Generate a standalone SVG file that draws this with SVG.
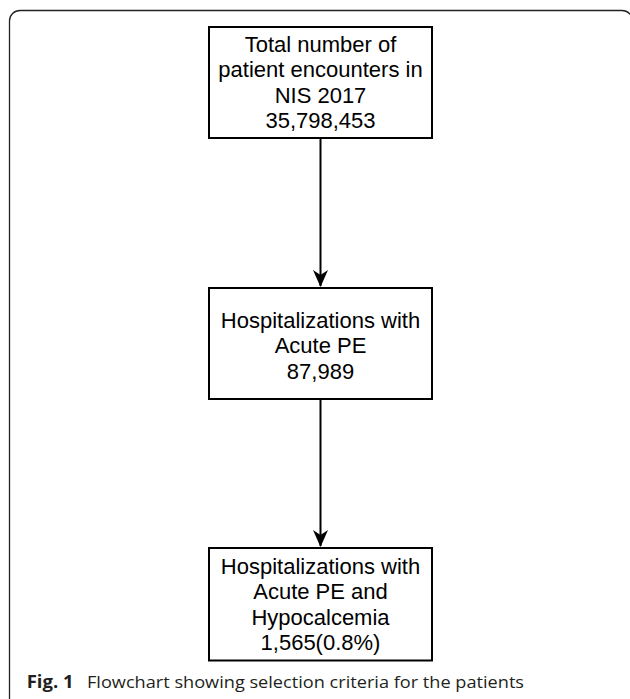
<svg xmlns="http://www.w3.org/2000/svg" width="630" height="699" viewBox="0 0 630 699">
<style>
.box{fill:#ffffff;stroke:#000000;stroke-width:2}
.t{font-family:"Liberation Sans",Arial,Helvetica,sans-serif;font-size:22px;fill:#000000;text-anchor:middle}
.edge{stroke:#000000;stroke-width:2;fill:none}
.cap{font-family:"Open Sans","Noto Sans",sans-serif;font-size:17px;fill:#231f20}
</style>
<defs>
<marker id="arr" markerUnits="userSpaceOnUse" markerWidth="20" markerHeight="20" viewBox="-19 -10 20 20" refX="-1" refY="0" orient="auto">
<path d="M0,0 L-17,-7.5 L-12,0 L-17,7.5 Z" fill="#000000"/>
</marker>
</defs>
<rect x="0" y="0" width="630" height="699" fill="#ffffff"/>
<path d="M9.5,705 L9.5,21 A10.5,10.5 0 0 1 20,10.5 L622,10.5 A10.5,10.5 0 0 1 632.5,21 L632.5,705" fill="none" stroke="#222222" stroke-width="1.3"/>
<g id="connectors">
<line class="edge" x1="320.5" y1="138" x2="320.5" y2="286" marker-end="url(#arr)"/>
<line class="edge" x1="320.5" y1="399" x2="320.5" y2="546" marker-end="url(#arr)"/>
</g>
<g id="node1">
<rect class="box" x="209" y="27" width="223" height="111"/>
<text class="t" x="320.5" y="51.5">Total number of</text>
<text class="t" x="320.5" y="77">patient encounters in</text>
<text class="t" x="320.5" y="102.5">NIS 2017</text>
<text class="t" x="320.5" y="128">35,798,453</text>
</g>
<g id="node2">
<rect class="box" x="209" y="288" width="223" height="111"/>
<text class="t" x="320.5" y="327.5">Hospitalizations with</text>
<text class="t" x="320.5" y="353">Acute PE</text>
<text class="t" x="320.5" y="378.5">87,989</text>
</g>
<g id="node3">
<rect class="box" x="209" y="548" width="223" height="112.5"/>
<text class="t" x="320.5" y="573.5">Hospitalizations with</text>
<text class="t" x="320.5" y="599">Acute PE and</text>
<text class="t" x="320.5" y="624.5">Hypocalcemia</text>
<text class="t" x="320.5" y="650">1,565(0.8%)</text>
</g>
<g id="caption">
<text class="cap" x="26.7" y="687.5" font-weight="bold" textLength="47" lengthAdjust="spacingAndGlyphs">Fig. 1</text>
<text class="cap" x="87" y="687.5" textLength="437" lengthAdjust="spacingAndGlyphs">Flowchart showing selection criteria for the patients</text>
</g>
</svg>
